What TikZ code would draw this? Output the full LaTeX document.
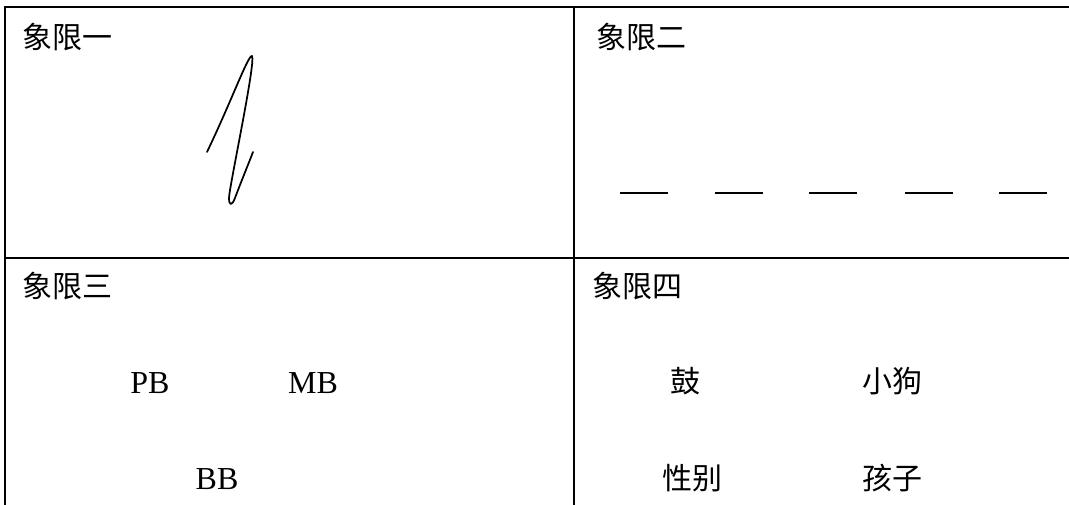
\documentclass[tikz,border=0pt]{standalone}
\usepackage{fontspec}
\setmainfont{Liberation Serif}
\newfontfamily\cjk{Noto Sans CJK SC}
\begin{document}
\begin{tikzpicture}[x=0.75pt,y=-0.75pt,
  grid/.style={line width=2.2pt,line cap=rect},
  cjklabel/.style={inner sep=0pt,font=\cjk\fontsize{22.5}{26}\selectfont},
  latlabel/.style={inner sep=0pt,font=\fontsize{24}{28}\selectfont},
  blank/.style={line width=1.1pt}]
\useasboundingbox (0,0) rectangle (1069,505);
% table lines
\coordinate (tl) at (5,7);
\coordinate (tr) at (1069,7);
\coordinate (ml) at (5,258);
\coordinate (mr) at (1069,258);
\coordinate (bl) at (5,505);
\coordinate (mt) at (574,7);
\coordinate (mb) at (574,505);
\draw[grid] (tl) -- (tr);
\draw[grid] (ml) -- (mr);
\draw[grid] (tl) -- (bl);
\draw[grid] (mt) -- (mb);
% headers
\node[cjklabel,anchor=west] (q1) at (22,37) {象限一};
\node[cjklabel,anchor=west] (q2) at (596,37) {象限二};
\node[cjklabel,anchor=west] (q3) at (22,286) {象限三};
\node[cjklabel,anchor=west] (q4) at (592,286) {象限四};
% quadrant 1 scribble
\draw[line width=1.3pt,line cap=round,line join=round]
  (207,152) .. controls (232,100) and (248,55) .. (252,56)
  .. controls (256,62) and (229,188) .. (229,198)
  .. controls (229,206) and (232,206) .. (235,198)
  .. controls (241,182) and (248,165) .. (253,152);
% quadrant 2 blanks
\foreach \x/\n in {620/b1,715/b2,809/b3,905/b4,999/b5}{
  \coordinate (\n s) at (\x,193);
  \coordinate (\n e) at (\x+48,193);
  \draw[blank] (\n s) -- (\n e);
}
% quadrant 3
\node[latlabel] (pb) at (150,383) {PB};
\node[latlabel] (mbn) at (313,383) {MB};
\node[latlabel] (bb) at (217,479) {BB};
% quadrant 4
\node[cjklabel] (gu) at (685,381) {鼓};
\node[cjklabel] (dog) at (892,381) {小狗};
\node[cjklabel] (sex) at (692,478) {性别};
\node[cjklabel] (kid) at (892,478) {孩子};
\end{tikzpicture}
\end{document}
